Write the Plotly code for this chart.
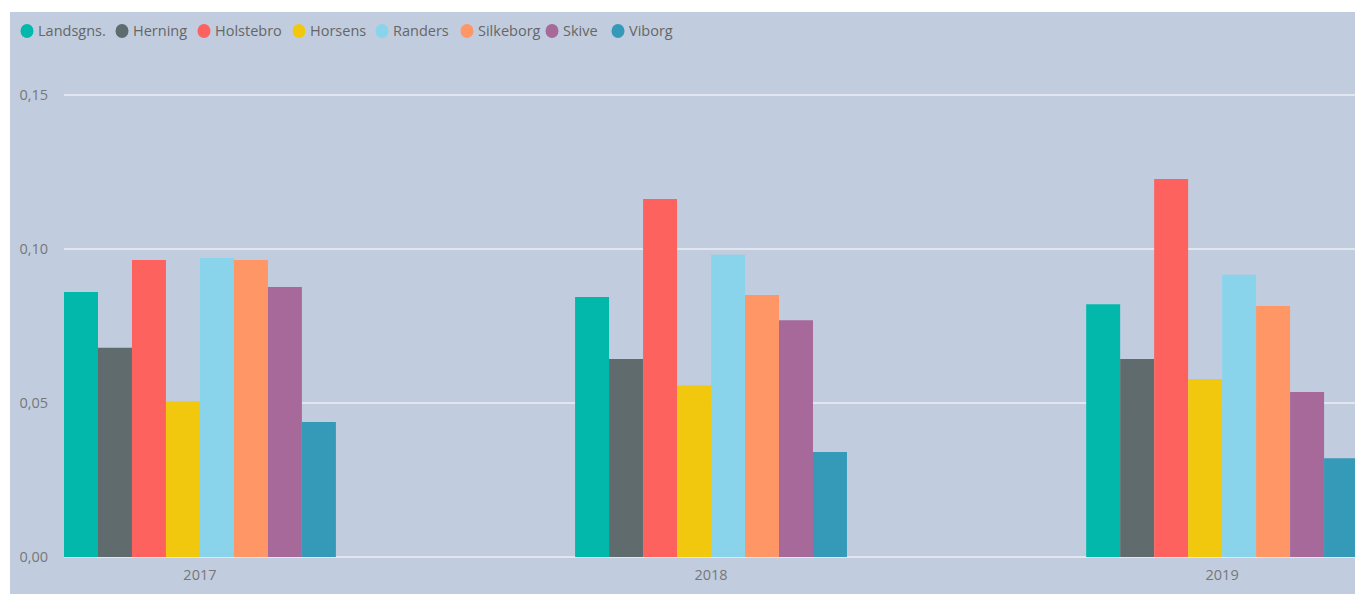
import plotly.graph_objects as go

years = ["2017", "2018", "2019"]
series_names = ["Landsgns.", "Herning", "Holstebro", "Horsens", "Randers", "Silkeborg", "Skive", "Viborg"]
landsgns = [0.0860, 0.0844, 0.0821]
herning = [0.0679, 0.0643, 0.0643]
holstebro = [0.0964, 0.1162, 0.1227]
horsens = [0.0506, 0.0558, 0.0578]
randers = [0.0971, 0.0981, 0.0916]
silkeborg = [0.0964, 0.0851, 0.0815]
skive = [0.0877, 0.0769, 0.0536]
viborg = [0.0438, 0.0341, 0.0321]
series_values = [landsgns, herning, holstebro, horsens, randers, silkeborg, skive, viborg]
colors = ["#01B8AA", "#5F6B6D", "#FD625E", "#F2C80F", "#8AD4EB", "#FE9666", "#A66999", "#3599B8"]
y_ticks = [0, 0.05, 0.10, 0.15]
legend_x = [27, 122, 204, 299, 382, 467, 552, 618]  # legend circle centres (px)

bg = "#c1cddf"
W, H = 1355, 594
l, r, t, b = 64, 0, 60, 37
pw, ph = W - l - r, H - t - b

def px_x(v):
    return (v - l) / pw

def px_y(v):
    return (H - b - v) / ph

fig = go.Figure()
for name, vals, col in zip(series_names, series_values, colors):
    fig.add_trace(go.Bar(x=[0, 1, 2], y=vals, name=name, marker=dict(color=col, line=dict(width=0)),
                         showlegend=False))

fig.add_shape(type="rect", xref="paper", yref="paper", layer="below",
              x0=px_x(10), x1=1.0, y0=px_y(H), y1=px_y(12),
              fillcolor=bg, line=dict(width=0))

# legend (circle + label)
for name, col, cx in zip(series_names, colors, legend_x):
    fig.add_shape(type="circle", xref="paper", yref="paper", layer="above",
                  x0=px_x(cx - 6.5), x1=px_x(cx + 6.5), y0=px_y(31 + 7), y1=px_y(31 - 7),
                  fillcolor=col, line=dict(width=0))
    fig.add_annotation(text=name, xref="paper", yref="paper", x=px_x(cx + 9), y=px_y(31),
                       xanchor="left", yanchor="middle", showarrow=False,
                       font=dict(family="Open Sans", size=14.5, color="#666666"))

fig.update_layout(
    width=W, height=H,
    margin=dict(l=l, r=r, t=t, b=b, pad=0),
    paper_bgcolor="white", plot_bgcolor=bg,
    barmode="group", bargap=0.468, bargroupgap=0,
    separators=",.",
    showlegend=False,
    font=dict(family="Open Sans", color="#666666"),
    xaxis=dict(tickmode="array", tickvals=[0, 1, 2], ticktext=years, range=[-0.266, 2.260],
               showgrid=False, zeroline=False, showline=False, ticks="", ticklabelstandoff=7,
               tickfont=dict(size=14.5, color="#777777")),
    yaxis=dict(range=[0, (H - b - t) / 3080], tickvals=y_ticks, tickformat=".2f",
               showgrid=True, gridcolor="#e2e7ef", gridwidth=1.5,
               zeroline=True, zerolinecolor="#e2e7ef", zerolinewidth=1.5,
               showline=False, ticks="", ticklabelstandoff=15,
               tickfont=dict(size=14.5, color="#777777")),
)
fig.write_html("out.html", config={"displayModeBar": False},
               post_script="document.body.style.margin='0';document.body.style.overflow='hidden';")
